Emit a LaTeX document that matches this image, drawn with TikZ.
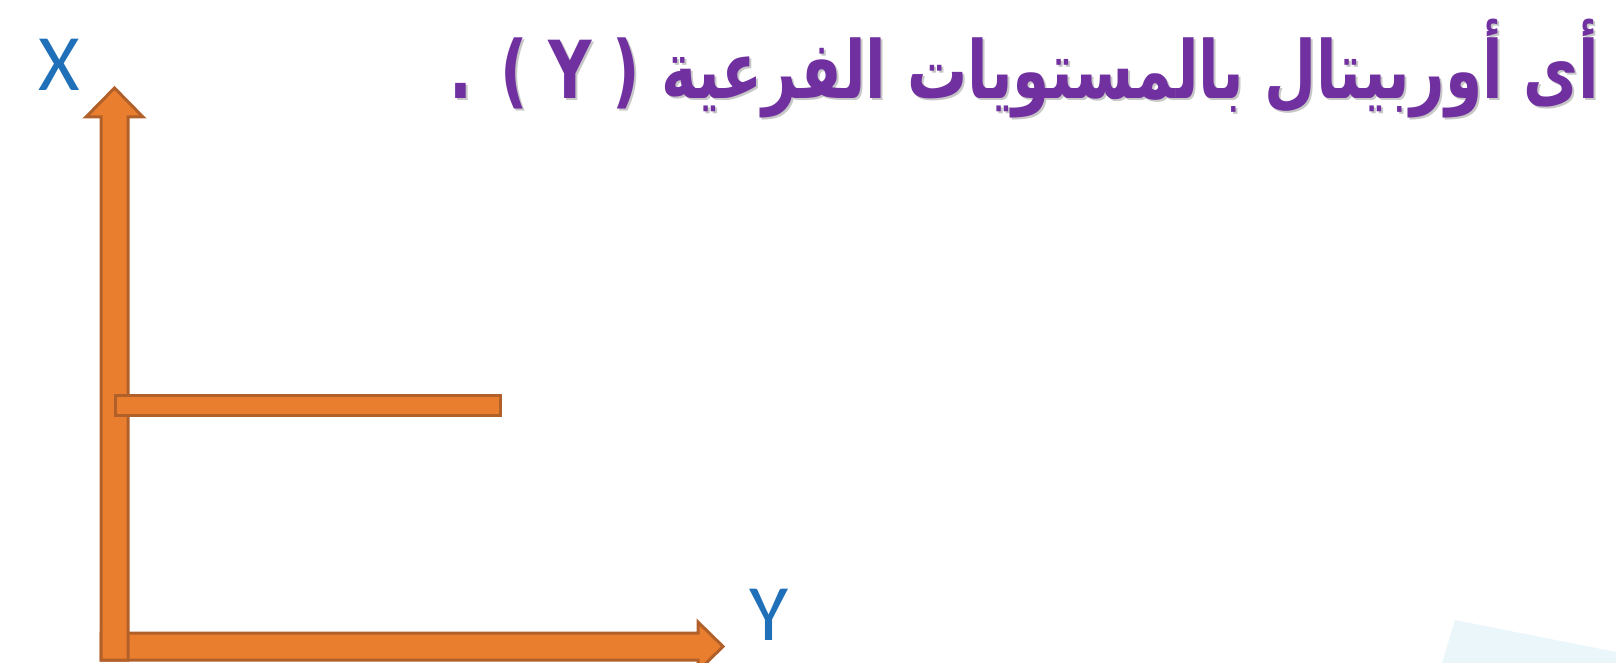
\documentclass[tikz,border=0pt]{standalone}
\usepackage{graphicx}
\usepackage{fontspec}
\setmainfont{DejaVu Sans}
\newfontfamily\arabicfont[Script=Arabic]{DejaVu Sans}
\newfontfamily\labelfont{Carlito}
\TeXXeTstate=1
\definecolor{arrowfill}{HTML}{E97E2F}
\definecolor{arrowline}{HTML}{B2602A}
\definecolor{labelblue}{HTML}{1F70B8}
\definecolor{titlepurple}{HTML}{7030A0}
\definecolor{faintcyan}{HTML}{EAF6F9}
\newcommand{\titlecontent}{\scalebox{0.75}[1]{. ( Y ) {\arabicfont\beginR أى أوربيتال بالمستويات الفرعية\endR}}}
\tikzset{
  axisarrow/.style={fill=arrowfill, draw=arrowline, line width=1.5pt, line join=miter},
  axislabel/.style={text=labelblue, font=\labelfont\fontsize{40}{44}\selectfont, inner sep=0pt},
  titletext/.style={font=\bfseries\fontsize{40}{48}\selectfont, inner sep=0pt, anchor=east},
}
\begin{document}
\begin{tikzpicture}[x=0.5pt,y=-0.5pt]
\useasboundingbox (0,0) rectangle (1616,663);
% faint watermark corner
\fill[faintcyan] (1455,620) -- (1616,652) -- (1616,663) -- (1442,663) -- cycle;
% horizontal axis arrow (Y)
\coordinate (ytip) at (723,646.5);
\draw[axisarrow] (101,633) -- (698,633) -- (698,622) -- (ytip) -- (698,671) -- (698,660) -- (101,660) -- cycle;
% vertical axis arrow (X)
\coordinate (xtip) at (114.5,88);
\draw[axisarrow] (101,660) -- (101,117) -- (86,117) -- (xtip) -- (143,117) -- (128,117) -- (128,660) -- cycle;
% branch line
\draw[axisarrow] (115,395) rectangle (500,415);
% labels
\node[axislabel] (xlab) at (59,65) {X};
\node[axislabel] (ylab) at (769,615) {Y};
% title with shadow
\node[titletext, text=black!22] (titleshadow) at (1602,71) {\titlecontent};
\node[titletext, text=titlepurple] (title) at (1600,69) {\titlecontent};
\end{tikzpicture}
\end{document}
